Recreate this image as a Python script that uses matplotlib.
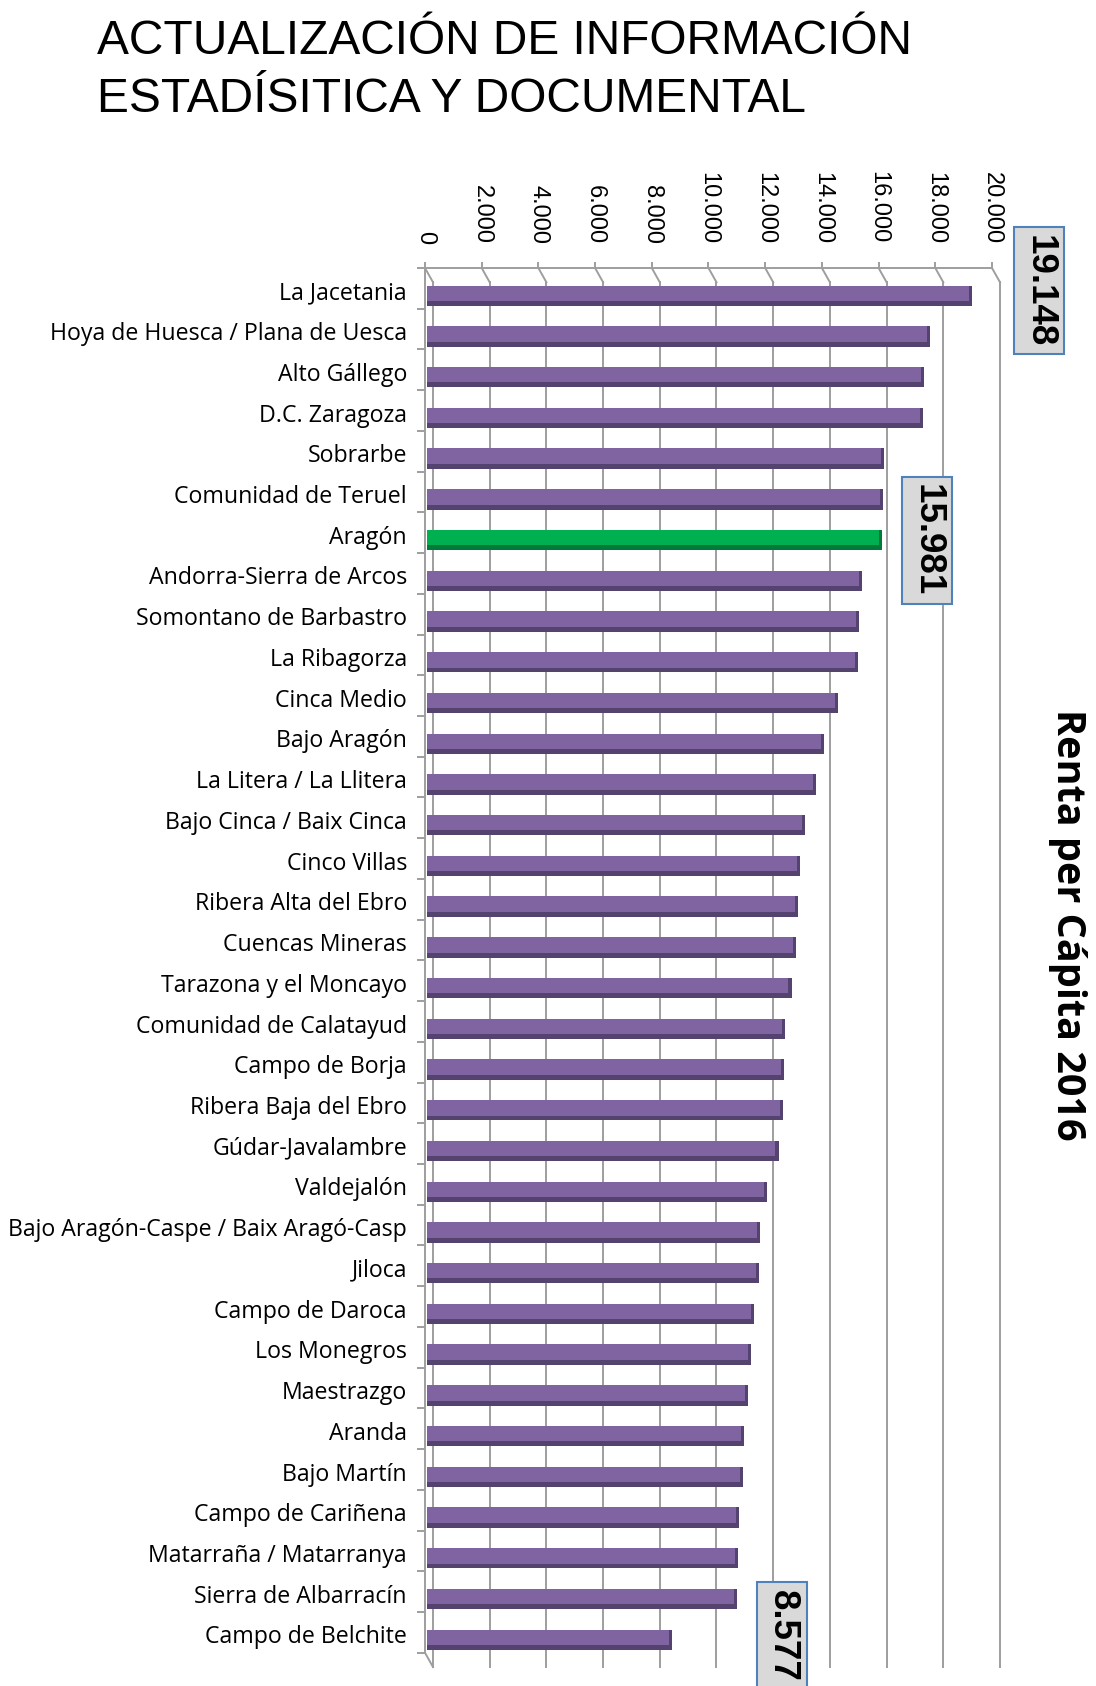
import matplotlib
matplotlib.use("Agg")
import matplotlib.pyplot as plt
import numpy

# datos: renta per cápita 2016 por comarca
comarcas = [
    "La Jacetania", "Hoya de Huesca / Plana de Uesca", "Alto Gállego", "D.C. Zaragoza",
    "Sobrarbe", "Comunidad de Teruel", "Aragón", "Andorra-Sierra de Arcos",
    "Somontano de Barbastro", "La Ribagorza", "Cinca Medio", "Bajo Aragón",
    "La Litera / La Llitera", "Bajo Cinca / Baix Cinca", "Cinco Villas", "Ribera Alta del Ebro",
    "Cuencas Mineras", "Tarazona y el Moncayo", "Comunidad de Calatayud", "Campo de Borja",
    "Ribera Baja del Ebro", "Gúdar-Javalambre", "Valdejalón", "Bajo Aragón-Caspe / Baix Aragó-Casp",
    "Jiloca", "Campo de Daroca", "Los Monegros", "Maestrazgo",
    "Aranda", "Bajo Martín", "Campo de Cariñena", "Matarraña / Matarranya",
    "Sierra de Albarracín", "Campo de Belchite",
]
renta = [
    19148, 17670, 17440, 17430,
    16040, 16000, 15981, 15280,
    15170, 15130, 14410, 13920,
    13650, 13270, 13080, 13000,
    12930, 12780, 12550, 12510,
    12480, 12320, 11910, 11680,
    11640, 11450, 11340, 11230,
    11110, 11070, 10920, 10880,
    10850, 8577,
]
destacados = ["La Jacetania", "Aragón", "Campo de Belchite"]
ticks_x = list(range(0, 20001, 2000))

FIG_W, FIG_H = 1096, 1686
PROFUNDIDAD_X = 282   # desplazamiento del plano del fondo (unidades de datos)
PROFUNDIDAD_Y = 0.35

fig = plt.figure(figsize=(FIG_W / 100, FIG_H / 100), dpi=100)
ax = fig.add_axes([425 / FIG_W, 19 / FIG_H, 577 / FIG_W, 1399 / FIG_H])
ax.set_xlim(0, 20353)
ax.set_ylim(33.67, -0.68)

color_linea = "#9e9e9e"
y_arriba = -0.68
y_abajo = 33.32

# plano del fondo: lineas verticales de la rejilla
for valor in ticks_x:
    ax.plot([valor + PROFUNDIDAD_X] * 2, [y_arriba + PROFUNDIDAD_Y, y_abajo + PROFUNDIDAD_Y],
            color=color_linea, lw=1.4, zorder=1, clip_on=False)
    ax.plot([valor, valor + PROFUNDIDAD_X], [y_arriba, y_arriba + PROFUNDIDAD_Y],
            color=color_linea, lw=1.4, zorder=1, clip_on=False)
ax.plot([0, PROFUNDIDAD_X], [y_abajo, y_abajo + PROFUNDIDAD_Y], color=color_linea, lw=1.4, clip_on=False)

# barras con efecto 3D
posiciones = numpy.arange(len(comarcas))
for pos, nombre, valor in zip(posiciones, comarcas, renta):
    if nombre == "Aragón":
        cara, sombra = "#00b050", "#007a3a"
    else:
        cara, sombra = "#8064a2", "#55436f"
    ax.barh(pos, valor + 90, height=0.50, left=60, color=sombra, zorder=3)
    ax.barh(pos - 0.06, valor - 20, height=0.38, left=60, color=cara, zorder=4)

# ejes
for lado in ["right", "bottom"]:
    ax.spines[lado].set_visible(False)
ax.spines["top"].set_color(color_linea)
ax.spines["top"].set_linewidth(1.4)
ax.spines["top"].set_bounds(0, 20000)
ax.spines["left"].set_color(color_linea)
ax.spines["left"].set_linewidth(1.4)
ax.spines["left"].set_bounds(y_arriba, y_abajo)

ax.xaxis.tick_top()
ax.set_xticks(ticks_x, ["{:,}".format(t).replace(",", ".") for t in ticks_x])
ax.tick_params(axis="x", which="major", length=4.5, width=1.4, color=color_linea, pad=13,
               labelrotation=-90, labelsize=17)
for etiqueta in ax.get_xticklabels():
    etiqueta.set_fontfamily("Liberation Sans")

# las etiquetas van en el plano delantero, un poco por encima del centro de la barra
ax.set_yticks(posiciones - 0.13, comarcas)
ax.set_yticks(numpy.arange(-1, len(comarcas)) + 0.32, minor=True)
ax.tick_params(axis="y", which="major", length=0, pad=13, labelsize=16.7)
ax.tick_params(axis="y", which="minor", length=5.5, width=1.4, color=color_linea)
for etiqueta in ax.get_yticklabels():
    etiqueta.set_fontfamily("Open Sans")

# cajas con los valores destacados
posicion_caja = {"La Jacetania": (21658, -0.12), "Aragón": (17707, 6.0), "Campo de Belchite": (12593, 32.9)}
for nombre in destacados:
    valor = renta[comarcas.index(nombre)]
    x_caja, y_caja = posicion_caja[nombre]
    ax.text(x_caja, y_caja, "{:,}".format(valor).replace(",", "."), rotation=-90,
            ha="center", va="center", fontsize=26.5, fontweight="bold", family="Liberation Sans",
            clip_on=False, zorder=6,
            bbox=dict(boxstyle="square,pad=0.2", facecolor="#d9d9d9", edgecolor="#4f81bd", linewidth=1.5))

fig.text(1067 / FIG_W, 1 - 925 / FIG_H, "Renta per Cápita 2016", rotation=-90, ha="center", va="center",
         fontsize=28.5, fontweight="bold", family="Open Sans")

fig.text(97 / FIG_W, 1 - 54 / FIG_H, "ACTUALIZACIÓN DE INFORMACIÓN", fontsize=34.5,
         family="Liberation Sans", va="baseline")
fig.text(97 / FIG_W, 1 - 112 / FIG_H, "ESTADÍSITICA Y DOCUMENTAL", fontsize=34.5,
         family="Liberation Sans", va="baseline")

plt.savefig("out.png", dpi=100)
